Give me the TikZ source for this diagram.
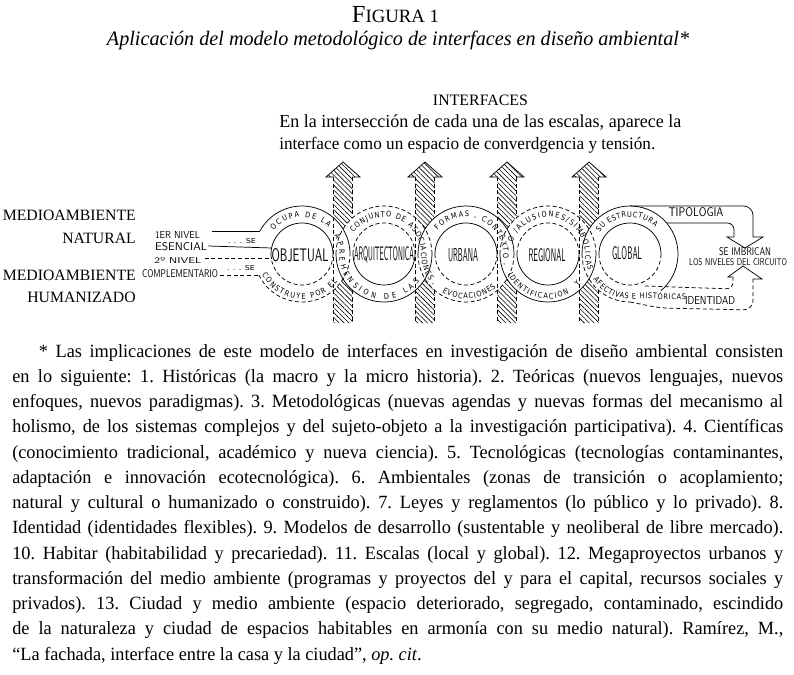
\documentclass[tikz,border=0pt]{standalone}
\usepackage{fontspec}
\setmainfont{Liberation Serif}[FakeStretch=0.98]
\newfontfamily\capsfont{Liberation Serif}
\newfontfamily\handfont{DejaVu Sans}[FakeStretch=0.85]
\usepackage{graphicx}
\usetikzlibrary{decorations.text,patterns.meta}
\newcommand\bandfont{\handfont\fontsize{5.8}{7}\selectfont}
\newcommand\hw[3]{\resizebox{#1pt}{#2pt}{\sffamily #3}}
\newcommand\jl[1]{\hbox to\hsize{#1}}
\begin{document}
\begin{tikzpicture}[x=0.75pt,y=0.75pt,
  ln/.style={line width=0.55pt},
  dsh/.style={line width=0.55pt,dash pattern=on 3pt off 2pt},
  hatch/.style={pattern={Lines[angle=-45,distance=2.6pt,line width=0.45pt]}},
  hand/.style={inner sep=0pt},
  serif/.style={inner sep=0pt},
  band/.style={decorate,decoration={text along path,text align={fit to path},text={|\bandfont|#1}}}]
\useasboundingbox (0,0) rectangle (794,-675);

% ---------- header texts
\node[serif,anchor=base] (fig) at (395.5,-22) {\resizebox{65.25pt}{!}{\capsfont\fontsize{19}{19}\selectfont F\fontsize{14.5}{14.5}\selectfont IGURA 1}};
\node[serif,anchor=base] (sub) at (398,-45) {\resizebox{436.5pt}{!}{\itshape Aplicación del modelo metodológico de interfaces en diseño ambiental*}};
\node[serif,anchor=base] (int) at (480.5,-105) {\resizebox{71.25pt}{!}{\capsfont INTERFACES}};
\node[serif,anchor=base west] (int1) at (279,-127) {\resizebox{301.5pt}{!}{En la intersección de cada una de las escalas, aparece la}};
\node[serif,anchor=base west] (int2) at (279,-149) {\resizebox{282pt}{!}{interface como un espacio de converdgencia y tensión.}};

% ---------- left labels
\node[serif,anchor=base east] (m1) at (136,-220) {\capsfont\fontsize{11.8}{12}\selectfont MEDIOAMBIENTE};
\node[serif,anchor=base east] (m2) at (136,-243) {\capsfont\fontsize{11.8}{12}\selectfont NATURAL};
\node[serif,anchor=base east] (m3) at (136,-280) {\capsfont\fontsize{11.8}{12}\selectfont MEDIOAMBIENTE};
\node[serif,anchor=base east] (m4) at (136,-302) {\capsfont\fontsize{11.8}{12}\selectfont HUMANIZADO};

% ---------- hatched interface arrows
\foreach \ax in {343,425,507,589}{
  \fill[hatch] (\ax-9.5,-323) -- (\ax-9.5,-177) -- (\ax-17,-177) -- (\ax,-162) -- (\ax+17,-177) -- (\ax+9.5,-177) -- (\ax+9.5,-323) -- cycle;
  \draw[ln] (\ax-9.5,-177) -- (\ax-17,-177) -- (\ax,-162) -- (\ax+17,-177) -- (\ax+9.5,-177);
  \draw[dsh] (\ax-9.5,-177) -- (\ax-9.5,-323) (\ax+9.5,-177) -- (\ax+9.5,-323);
}
\foreach \cx in {302,384,466,548,630} \fill[white] (\cx,-254) circle[radius=48];
\foreach \ax in {343,425,507,589} \draw[dsh] (\ax-9.5,-217) -- (\ax-9.5,-291);

% ---------- rings
% ring 1
\draw[ln] (302,-254) ++(151.4:48) arc[start angle=151.4,end angle=0,radius=48];
\draw[dsh] (302,-254) ++(206:48) arc[start angle=206,end angle=360,radius=48];
\draw[ln] (302,-254) ++(180:31) arc[start angle=180,end angle=0,radius=31];
\draw[dsh] (302,-254) ++(180:31) arc[start angle=180,end angle=360,radius=31];
% rings 2 and 4
\foreach \cx in {384,548}{
  \foreach \r in {31,48}{
    \draw[dsh] (\cx,-254) ++(0:\r) arc[start angle=0,end angle=180,radius=\r];
    \draw[ln] (\cx,-254) ++(180:\r) arc[start angle=180,end angle=360,radius=\r];
  }
}
% ring 3
\foreach \r in {31,48}{
  \draw[ln] (466,-254) ++(0:\r) arc[start angle=0,end angle=180,radius=\r];
  \draw[dsh] (466,-254) ++(180:\r) arc[start angle=180,end angle=360,radius=\r];
}
% ring 5
\draw[ln] (630,-254) ++(-50:48) arc[start angle=-50,end angle=180,radius=48];
\draw[dsh] (630,-254) ++(180:48) arc[start angle=180,end angle=270,radius=48];
\draw[ln] (630,-254) ++(0:31) arc[start angle=0,end angle=180,radius=31];
\draw[dsh] (630,-254) ++(180:31) arc[start angle=180,end angle=360,radius=31];

% ---------- entry levels
\node[hand] (n1) at (177.5,-235) {\hw{33.75}{5.25}{1ER NIVEL}};
\node[hand] (n2) at (181,-247) {\hw{39}{6}{ESENCIAL}};
\node[hand] (n3) at (178,-260) {\hw{35.25}{4.5}{2º NIVEL}};
\node[hand] (n4) at (180,-274) {\hw{57}{6}{COMPLEMENTARIO}};
\node[hand] (se1) at (242,-241) {\resizebox{21pt}{3.75pt}{\handfont . . . SE}};
\node[hand] (se2) at (241,-268) {\resizebox{21pt}{3.75pt}{\handfont . . . SE}};
\draw[ln] (212,-231) -- (260,-231);
\draw[ln] (n2.east) ++(1,1) -- (271.6,-248);
\draw[dsh] (n3.east) ++(3,2) -- (271.7,-258);
\draw[dsh] (n4.east) ++(2,-1) -- (258.8,-275);

% ---------- circle names
\node[hand] (obj) at (300,-255) {\hw{42.75}{9.75}{OBJETUAL}};
\node[hand] (arq) at (384,-255) {\hw{45}{10.5}{ARQUITECTONICA}};
\node[hand] (urb) at (463,-255) {\hw{22.5}{9.75}{URBANA}};
\node[hand] (reg) at (547,-255) {\hw{27.75}{9.75}{REGIONAL}};
\node[hand] (glo) at (627,-253) {\hw{22.5}{9.75}{GLOBAL}};

% ---------- band texts
\path[band={OCUPA DE LA}] (302,-254) ++(140:37) arc[start angle=140,end angle=45,radius=37];
\path[band={APREHENSION DE LAS}] (302,-254) ++(30:37) arc[start angle=30,end angle=0,radius=37] arc[start angle=180,end angle=322,radius=45];
\path[band={CONSTRUYE POR EL}] (302,-254) ++(207:45) arc[start angle=207,end angle=322,radius=45];
\path[band={CONJUNTO DE ASOCIACIONES ,}] (384,-254) ++(145:37) arc[start angle=145,end angle=0,radius=37] arc[start angle=180,end angle=224,radius=45];
\path[band={FORMAS , CONTEXTO ,}] (466,-254) ++(140:37) arc[start angle=140,end angle=0,radius=37] arc[start angle=180,end angle=195,radius=45];
\path[band={EVOCACIONES}] (466,-254) ++(238:45) arc[start angle=238,end angle=312,radius=45];
\path[band={O /ALUSIONES/SIMBOLICAS}] (548,-254) ++(162:37) arc[start angle=162,end angle=0,radius=37] arc[start angle=180,end angle=202,radius=45];
\path[band={IDENTIFICACION}] (548,-254) ++(207:45) arc[start angle=207,end angle=298,radius=45];
\node[hand,rotate=45] (yy) at (577,-283) {\bandfont Y};
\path[band={SU ESTRUCTURA}] (630,-254) ++(145:37) arc[start angle=145,end angle=47,radius=37];
\path[band={AFECTIVAS E HISTÓRICAS}] (630,-254) ++(215:45) arc[start angle=215,end angle=280,radius=45] -- (686,-300);

% ---------- right side circuit
\node[hand] (tip) at (696,-212) {\hw{41.25}{6.75}{TIPOLOGIA}};
\node[hand] (imb) at (745,-252) {\hw{39}{6}{SE IMBRICAN}};
\node[hand] (niv) at (738,-262) {\hw{73.5}{5.25}{LOS NIVELES DEL CIRCUITO}};
\node[hand] (ide) at (710,-300) {\hw{37.5}{6}{IDENTIDAD}};
\draw[ln,rounded corners=7] (630,-206) -- (753,-206) -- (753,-237);
\draw[ln,rounded corners=5] (667,-223) -- (734,-223) -- (734,-237);
\draw[ln] (734,-237) -- (727,-237) -- (745,-248) -- (763,-237) -- (753,-237);
\draw[dsh,rounded corners=5] (645,-286) -- (733,-289) -- (733,-277);
\draw[dsh,rounded corners=7] (630,-302) -- (660,-308) -- (753,-310) -- (753,-279);
\draw[ln] (733,-277) -- (728,-277) -- (743,-266) -- (762,-279) -- (753,-279);

% ---------- footnote
\node[serif,anchor=base west] (nota) at (12,-357) {\parbox[t]{578.25pt}{\fontsize{14}{18.94}\selectfont\baselineskip=18.94pt\frenchspacing
\jl{\hskip20pt* Las implicaciones de este modelo de interfaces en investigación de diseño ambiental consisten}
\jl{en lo siguiente: 1. Históricas (la macro y la micro historia). 2. Teóricas (nuevos lenguajes, nuevos}
\jl{enfoques, nuevos paradigmas). 3. Metodológicas (nuevas agendas y nuevas formas del mecanismo al}
\jl{holismo, de los sistemas complejos y del sujeto-objeto a la investigación participativa). 4. Científicas}
\jl{(conocimiento tradicional, académico y nueva ciencia). 5. Tecnológicas (tecnologías contaminantes,}
\jl{adaptación e innovación ecotecnológica). 6. Ambientales (zonas de transición o acoplamiento;}
\jl{natural y cultural o humanizado o construido). 7. Leyes y reglamentos (lo público y lo privado). 8.}
\jl{Identidad (identidades flexibles). 9. Modelos de desarrollo (sustentable y neoliberal de libre mercado).}
\jl{10. Habitar (habitabilidad y precariedad). 11. Escalas (local y global). 12. Megaproyectos urbanos y}
\jl{transformación del medio ambiente (programas y proyectos del y para el capital, recursos sociales y}
\jl{privados). 13. Ciudad y medio ambiente (espacio deteriorado, segregado, contaminado, escindido}
\jl{de la naturaleza y ciudad de espacios habitables en armonía con su medio natural). Ramírez, M.,}
\hbox{“La fachada, interface entre la casa y la ciudad”, \textit{op. cit}.}}};
\end{tikzpicture}
\end{document}
